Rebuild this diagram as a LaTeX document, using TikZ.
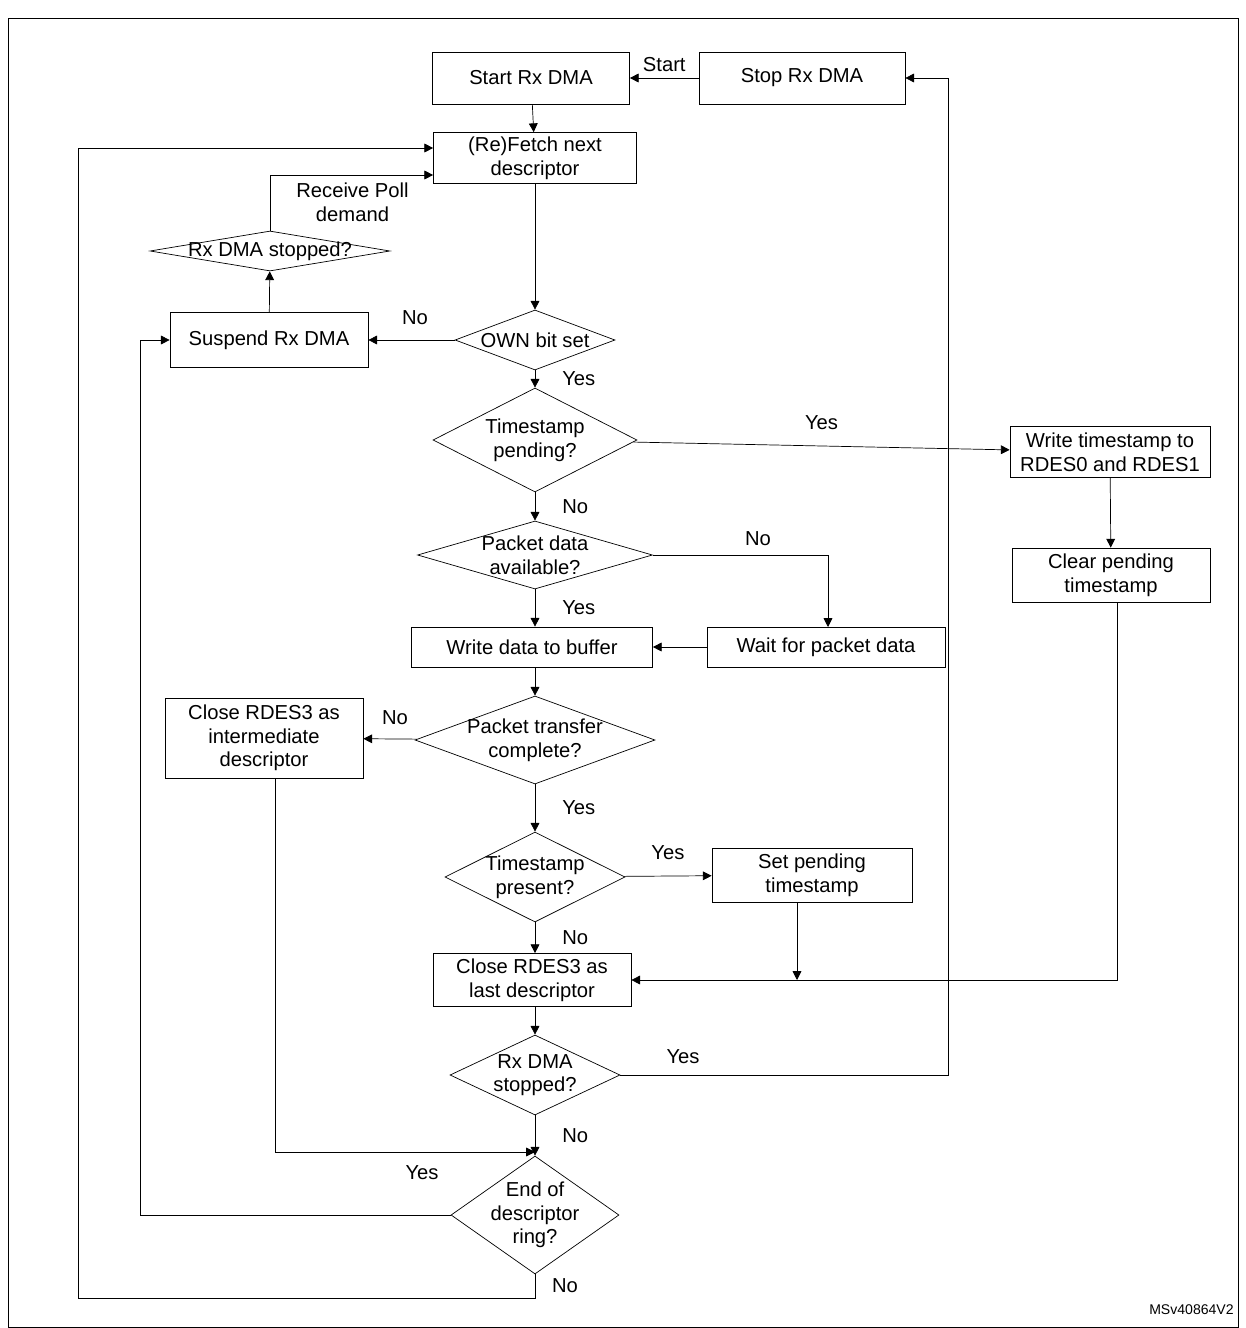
\documentclass[tikz,border=0pt]{standalone}
\usepackage{fontspec}
\setmainfont{Liberation Sans}
\usetikzlibrary{shapes.geometric,arrows.meta}

\tikzset{
  box/.style={draw, rectangle, align=center, inner sep=1pt},
  decision/.style={draw, diamond, inner sep=0pt},
  lbl/.style={align=center, inner sep=0pt},
  flow/.style={-{Triangle[length=5pt,width=5pt]}},
}

\begin{document}
\begin{tikzpicture}[x=0.02cm, y=-0.02cm, font=\fontsize{11.5}{13.5}\selectfont]
  \useasboundingbox (0,0) rectangle (1245,1328);
  \draw (8,18) rectangle (1238,1327);

  % boxes
  \node [box, minimum width=3.94cm, minimum height=1.04cm] (start) at (531,78) {Start Rx DMA};
  \node [box, minimum width=4.12cm, minimum height=1.04cm] (stop) at (802,78) {Stop Rx DMA};
  \node [box, minimum width=4.06cm, minimum height=1.02cm] (fetch) at (535,158) {(Re)Fetch next\\descriptor};
  \node [box, minimum width=3.96cm, minimum height=1.1cm] (suspend) at (269,340) {Suspend Rx DMA};
  \node [box, minimum width=4.0cm, minimum height=1.02cm] (wrts) at (1110,452) {Write timestamp to\\RDES0 and RDES1};
  \node [box, minimum width=3.96cm, minimum height=1.08cm] (clear) at (1111,575) {Clear pending\\timestamp};
  \node [box, minimum width=4.82cm, minimum height=0.8cm] (wrdata) at (532,647) {Write data to buffer};
  \node [box, minimum width=4.76cm, minimum height=0.8cm] (wait) at (826,647) {Wait for packet data};
  \node [box, minimum width=3.96cm, minimum height=1.6cm] (closeint) at (264,738) {Close RDES3 as\\intermediate\\descriptor};
  \node [box, minimum width=4.0cm, minimum height=1.08cm] (setpend) at (812,875) {Set pending\\timestamp};
  \node [box, minimum width=3.96cm, minimum height=1.06cm] (closelast) at (532,980) {Close RDES3 as\\last descriptor};

  % decisions
  \node [decision, minimum width=4.8cm, minimum height=0.8cm] (stopped) at (270,251) {};
  \node [lbl] at (stopped) {Rx DMA stopped?};
  \node [decision, minimum width=3.2cm, minimum height=1.2cm] (own) at (535,340) {};
  \node [lbl] at (own) {OWN bit set};
  \node [decision, minimum width=4.08cm, minimum height=2.08cm] (tspend) at (535,440) {};
  \node [lbl] at (tspend) {Timestamp\\pending?};
  \node [decision, minimum width=4.7cm, minimum height=1.36cm] (avail) at (535,555) {};
  \node [lbl] at (avail) {Packet data\\available?};
  \node [decision, minimum width=4.8cm, minimum height=1.76cm] (complete) at (535,740) {};
  \node [lbl] at (complete) {Packet transfer\\complete?};
  \node [decision, minimum width=3.6cm, minimum height=1.8cm] (tspres) at (535,877) {};
  \node [lbl] at (tspres) {Timestamp\\present?};
  \node [decision, minimum width=3.4cm, minimum height=1.6cm] (stopped2) at (535,1075) {};
  \node [lbl] at (stopped2) {Rx DMA\\stopped?};
  \node [decision, minimum width=3.36cm, minimum height=2.36cm] (ring) at (535,1215) {};
  \node [lbl] at (ring) {End of\\descriptor\\ring?};

  \node [lbl, anchor=east] (ver) at (1234,1310) {\fontsize{8}{10}\selectfont MSv40864V2};

  % connectors
  \draw [flow] (stop) -- node[above] {Start} (start);
  \draw [flow] (start) -- (fetch);
  \draw [flow] (fetch.south -| own.north) -- (own);
  \draw [flow] (own) -- (suspend);
  \node [lbl] at (415,318) {No};
  \draw [flow] (suspend) -- (stopped);
  \draw [flow] (stopped.north) |- (fetch.west |- 0,175);
  \node [lbl, anchor=west] at (296,202) {Receive Poll\\demand};
  \draw [flow] (own) -- node[pos=0.5, right=12pt] {Yes} (tspend);
  \draw [flow] (tspend) -- node[above=6pt] {Yes} (wrts);
  \draw [flow] (wrts) -- (clear);
  \draw [flow] (tspend) -- node[right=12pt] {No} (avail);
  \draw [flow] (avail) -- node[right=12pt] {Yes} (wrdata.north -| avail);
  \draw [flow] (avail.east) -| node[pos=0.3, above=2pt] {No} (828,627);
  \draw [flow] (wait) -- (wrdata);
  \draw [flow] (wrdata.south -| complete) -- (complete);
  \draw [flow] (complete) -- (closeint);
  \node [lbl] at (395,718) {No};
  \draw [flow] (complete) -- node[right=12pt] {Yes} (tspres);
  \draw [flow] (tspres) -- node[above=6pt] {Yes} (setpend);
  \draw [flow] (tspres) -- node[right=12pt] {No} (closelast.north -| tspres);
  \draw [flow] (797,902) -- (797,980);
  \draw [flow] (clear.south -| 1117,0) |- (closelast.east);
  \draw [flow] (closelast.south -| stopped2) -- (stopped2);
  \draw [flow] (stopped2.east) -| (948,78) -- (stop.east);
  \node [lbl] at (683,1057) {Yes};
  \draw [flow] (stopped2) -- node[right=12pt] {No} (ring);
  \draw [flow] (closeint.south -| 275,0) |- (535,1152);
  \draw [flow] (ring.west) -| (140,340) -- (suspend.west);
  \node [lbl] at (422,1173) {Yes};
  \draw [flow] (ring.south) -- (535,1298) -| (78,148) -- (fetch.west |- 0,148);
  \node [lbl] at (565,1286) {No};
\end{tikzpicture}
\end{document}
